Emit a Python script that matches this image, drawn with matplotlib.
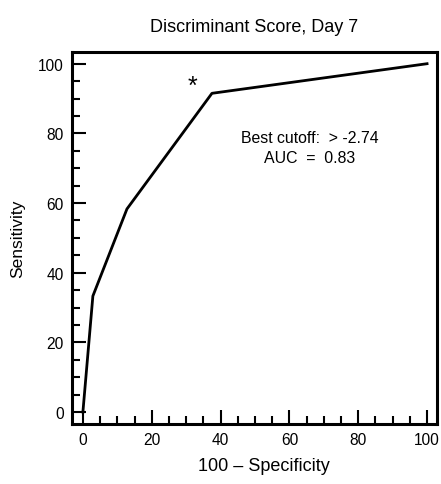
import matplotlib.pyplot as plt
from matplotlib.ticker import MultipleLocator

plt.rcParams['font.family'] = ['Liberation Sans', 'DejaVu Sans']

# ROC curve points
fpr = [0, 2.9, 12.8, 37.5, 100]
tpr = [0, 33.3, 58.3, 91.5, 100]
best_point = (31.7, 93.5)
x_ticks = [0, 20, 40, 60, 80, 100]
y_ticks = [0, 20, 40, 60, 80, 100]

fig = plt.figure(figsize=(4.41, 4.85), dpi=100)
ax = fig.add_axes([0.163, 0.124, 0.828, 0.767])

ax.plot(fpr, tpr, color='black', lw=2)
ax.text(best_point[0], best_point[1], '*', fontsize=18, ha='center', va='center')
ax.text(66, 78.8, 'Best cutoff:  > -2.74', fontsize=11.4, ha='center', va='center')
ax.text(66, 73.2, 'AUC  =  0.83', fontsize=11.4, ha='center', va='center')

ax.set_xlim(-3.2, 102.9)
ax.set_ylim(-3.4, 103.4)
ax.set_xticks(x_ticks)
ax.set_yticks(y_ticks)
ax.xaxis.set_minor_locator(MultipleLocator(5))
ax.yaxis.set_minor_locator(MultipleLocator(5))
ax.tick_params(which='major', direction='in', length=10, width=1.5, labelsize=11.2, pad=6)
ax.tick_params(which='minor', direction='in', length=6, width=1.5)
for s in ax.spines.values():
    s.set_linewidth(2.2)

ax.set_xlabel('100 \u2013 Specificity', fontsize=13)
ax.xaxis.set_label_coords(0.525, -0.09)
ax.set_ylabel('Sensitivity', fontsize=12.5)
ax.yaxis.set_label_coords(-0.128, 0.5)
ax.set_title('Discriminant Score, Day 7', fontsize=13, pad=15)

fig.savefig('out.png', dpi=100)
